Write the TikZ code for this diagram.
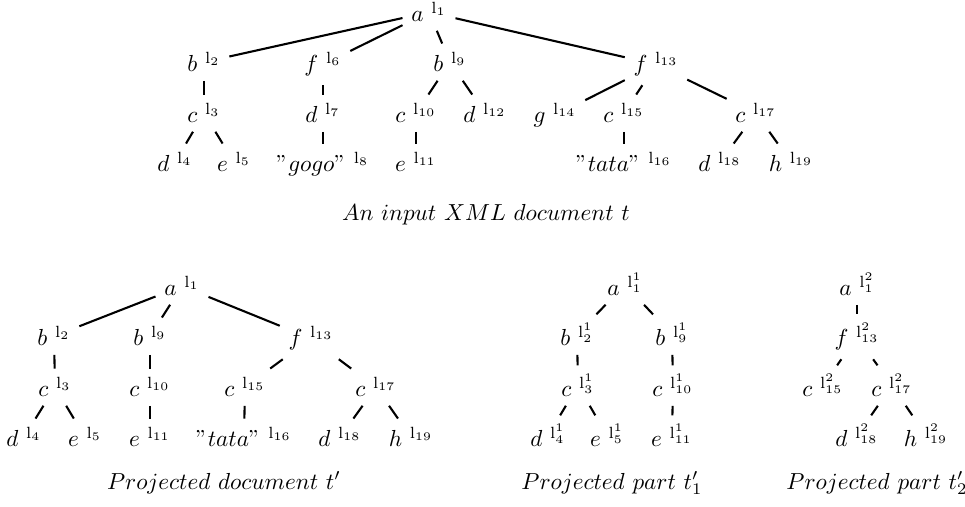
\documentclass[tikz,border=0pt]{standalone}
\newcommand\nd[2]{$#1$\ $^{\mathrm{l}#2}$}
\begin{document}
\begin{tikzpicture}[x=0.4311pt,y=-0.4311pt,
  tn/.style={anchor=base,inner sep=0.3333em},
  captext/.style={anchor=base,inner sep=0pt},
  every path/.style={line width=0.9pt}]
\useasboundingbox (0,0) rectangle (965,507);
% top tree
\node[tn] (t1) at (429,22) {\nd{a}{_1}};
\node[tn] (t2) at (204,72) {\nd{b}{_2}};
\node[tn] (t6) at (323,72) {\nd{f}{_6}};
\node[tn] (t9) at (450,72) {\nd{b}{_9}};
\node[tn] (t13) at (656,72) {\nd{f}{_{13}}};
\node[tn] (t3) at (204,123) {\nd{c}{_3}};
\node[tn] (t7) at (323,123) {\nd{d}{_7}};
\node[tn] (t10) at (416,123) {\nd{c}{_{10}}};
\node[tn] (t12) at (485,123) {\nd{d}{_{12}}};
\node[tn] (t14) at (555,123) {\nd{g}{_{14}}};
\node[tn] (t15) at (624,123) {\nd{c}{_{15}}};
\node[tn] (t17) at (756,123) {\nd{c}{_{17}}};
\node[tn] (t4) at (175,172) {\nd{d}{_4}};
\node[tn] (t5) at (234,172) {\nd{e}{_5}};
\node[tn] (t8) at (323,172) {\nd{"gogo"}{_8}};
\node[tn] (t11) at (416,172) {\nd{e}{_{11}}};
\node[tn] (t16) at (624,172) {\nd{"tata"}{_{16}}};
\node[tn] (t18) at (720,172) {\nd{d}{_{18}}};
\node[tn] (t19) at (791,172) {\nd{h}{_{19}}};
\draw (t1) -- (t2); \draw (t1) -- (t6); \draw (t1) -- (t9); \draw (t1) -- (t13);
\draw (t2) -- (t3); \draw (t6) -- (t7); \draw (t9) -- (t10); \draw (t9) -- (t12);
\draw (t13) -- (t14); \draw (t13) -- (t15); \draw (t13) -- (t17);
\draw (t3) -- (t4); \draw (t3) -- (t5); \draw (t7) -- (t8); \draw (t10) -- (t11);
\draw (t15) -- (t16); \draw (t17) -- (t18); \draw (t17) -- (t19);
\node[captext] (c1) at (486,221) {$An\ input\ XML\ document\ t$};
% projected document
\node[tn] (p1) at (182,296) {\nd{a}{_1}};
\node[tn] (p2) at (54,346) {\nd{b}{_2}};
\node[tn] (p9) at (150,346) {\nd{b}{_9}};
\node[tn] (p13) at (311,346) {\nd{f}{_{13}}};
\node[tn] (p3) at (55,397) {\nd{c}{_3}};
\node[tn] (p10) at (150,397) {\nd{c}{_{10}}};
\node[tn] (p15) at (245,397) {\nd{c}{_{15}}};
\node[tn] (p17) at (376,397) {\nd{c}{_{17}}};
\node[tn] (p4) at (24,447) {\nd{d}{_4}};
\node[tn] (p5) at (85,447) {\nd{e}{_5}};
\node[tn] (p11) at (150,447) {\nd{e}{_{11}}};
\node[tn] (p16) at (244,447) {\nd{"tata"}{_{16}}};
\node[tn] (p18) at (340,447) {\nd{d}{_{18}}};
\node[tn] (p19) at (411,447) {\nd{h}{_{19}}};
\draw (p1) -- (p2); \draw (p1) -- (p9); \draw (p1) -- (p13);
\draw (p2) -- (p3); \draw (p9) -- (p10); \draw (p13) -- (p15); \draw (p13) -- (p17);
\draw (p3) -- (p4); \draw (p3) -- (p5); \draw (p10) -- (p11); \draw (p15) -- (p16);
\draw (p17) -- (p18); \draw (p17) -- (p19);
\node[captext] (c2) at (224,489) {$Projected\ document\ t'$};
% projected part 1
\node[tn] (q1) at (625,296) {\nd{a}{^1_1}};
\node[tn] (q2) at (577,346) {\nd{b}{^1_2}};
\node[tn] (q9) at (672,346) {\nd{b}{^1_9}};
\node[tn] (q3) at (578,397) {\nd{c}{^1_3}};
\node[tn] (q10) at (673,397) {\nd{c}{^1_{10}}};
\node[tn] (q4) at (548,447) {\nd{d}{^1_4}};
\node[tn] (q5) at (607,447) {\nd{e}{^1_5}};
\node[tn] (q11) at (672,447) {\nd{e}{^1_{11}}};
\draw (q1) -- (q2); \draw (q1) -- (q9); \draw (q2) -- (q3); \draw (q9) -- (q10);
\draw (q3) -- (q4); \draw (q3) -- (q5); \draw (q10) -- (q11);
\node[captext] (c3) at (612,489) {$Projected\ part\ t'_1$};
% projected part 2
\node[tn] (r1) at (857,296) {\nd{a}{^2_1}};
\node[tn] (r13) at (857,346) {\nd{f}{^2_{13}}};
\node[tn] (r15) at (823,397) {\nd{c}{^2_{15}}};
\node[tn] (r17) at (892,397) {\nd{c}{^2_{17}}};
\node[tn] (r18) at (857,447) {\nd{d}{^2_{18}}};
\node[tn] (r19) at (926,447) {\nd{h}{^2_{19}}};
\draw (r1) -- (r13); \draw (r13) -- (r15); \draw (r13) -- (r17);
\draw (r17) -- (r18); \draw (r17) -- (r19);
\node[captext] (c4) at (877,489) {$Projected\ part\ t'_2$};
\end{tikzpicture}
\end{document}
